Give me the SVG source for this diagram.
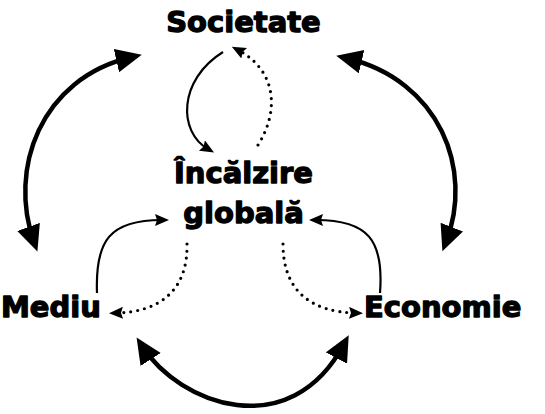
<svg xmlns="http://www.w3.org/2000/svg" width="545" height="414" viewBox="0 0 545 414">
<style>
.lbl{font-family:"DejaVu Sans",Verdana,sans-serif;font-weight:bold;font-size:29px;fill:#000;stroke:#000;stroke-width:1.3;stroke-linejoin:round}
.big{fill:none;stroke:#000;stroke-width:4.5}
.thin{fill:none;stroke:#000;stroke-width:2.2}
.dot{fill:none;stroke:#000;stroke-width:3.2;stroke-linecap:round;stroke-dasharray:0 7}
</style>
<defs>
<marker id="hb" markerUnits="userSpaceOnUse" markerWidth="28" markerHeight="26" refX="16" refY="12" orient="auto-start-reverse">
<path d="M0,0 L26,12 L0,24 z" fill="#000"/>
</marker>
<marker id="hs" markerUnits="userSpaceOnUse" markerWidth="16" markerHeight="14" refX="7" refY="6" orient="auto">
<path d="M0,0 L14,6 L0,12 L2,6 z" fill="#000"/>
</marker>
</defs>
<rect width="545" height="414" fill="#fff"/>
<g id="connectors">
<path class="big" d="M34 242 C 8 170, 40 78, 132 57" marker-start="url(#hb)" marker-end="url(#hb)"/>
<path class="big" d="M446 242 C 474 170, 440 80, 346 58" marker-start="url(#hb)" marker-end="url(#hb)"/>
<path class="big" d="M142 346 C 180 405, 290 445, 344 344" marker-start="url(#hb)" marker-end="url(#hb)"/>
<path class="thin" d="M223 52 C 178 80, 178 132, 208 149" marker-end="url(#hs)"/>
<path class="dot" d="M258 145 C 280 110, 276 70, 238 50" marker-end="url(#hs)"/>
<path class="thin" d="M97 293 C 95 240, 110 220, 162 220" marker-end="url(#hs)"/>
<path class="thin" d="M380 293 C 384 240, 368 220, 316 220" marker-end="url(#hs)"/>
<path class="dot" d="M187 244 C 188 290, 160 312, 116 313" marker-end="url(#hs)"/>
<path class="dot" d="M283 244 C 283 290, 310 312, 356 313" marker-end="url(#hs)"/>
</g>
<g id="societate"><text class="lbl" x="243.5" y="32" text-anchor="middle">Societate</text></g>
<g id="incalzire"><text class="lbl" x="243.5" y="183" text-anchor="middle">Încălzire</text><text class="lbl" x="243.5" y="223" text-anchor="middle">globală</text></g>
<g id="mediu"><text class="lbl" x="1" y="317">Mediu</text></g>
<g id="economie"><text class="lbl" x="364" y="317">Economie</text></g>
</svg>
